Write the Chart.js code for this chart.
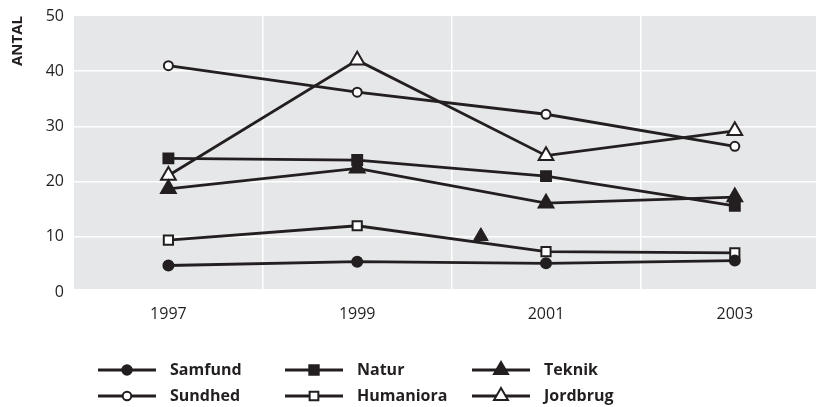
<!DOCTYPE html>
<html>
<head>
<meta charset="utf-8">
<script src="https://cdn.jsdelivr.net/npm/chart.js@4/dist/chart.umd.min.js"></script>
<style>
html,body{margin:0;padding:0;background:#fff;}
#wrap{width:816px;height:407px;}
</style>
</head>
<body>
<div id="wrap"><canvas id="c" width="816" height="407"></canvas></div>
<script>
const years = [1997, 1999, 2001, 2003];
const samfund   = [4.8, 5.5, 5.2, 5.7];
const natur     = [24.2, 23.9, 21.0, 15.6];
const teknik    = [18.7, 22.4, 16.1, 17.2];
const sundhed   = [41.0, 36.2, 32.2, 26.4];
const humaniora = [9.4, 12.0, 7.3, 7.1];
const jordbrug  = [21.1, 42.0, 24.7, 29.2];
const strayX = [2000.31];
const strayY = [10.1];
const yTicks = [0, 10, 20, 30, 40, 50];
const gridYears = [1998, 2000, 2002];
const axisTitle = 'ANTAL';

const INK = '#231f20';
const GRAY = '#e6e7e8';
const X_MIN = 1996, X_MAX = 2003.86;

function pts(vals){ return years.map((y,i)=>({x:y, y:vals[i]})); }

const series = [
  {label:'Samfund',   data:samfund,   style:'circle',   r:5,   fill:INK},
  {label:'Natur',     data:natur,     style:'rect',     r:7,   fill:INK},
  {label:'Teknik',    data:teknik,    style:'triangle', r:8.5, fill:INK},
  {label:'Sundhed',   data:sundhed,   style:'circle',   r:4.5, fill:'#ffffff'},
  {label:'Humaniora', data:humaniora, style:'rect',     r:6.5, fill:'#ffffff'},
  {label:'Jordbrug',  data:jordbrug,  style:'triangle', r:8.5, fill:'#ffffff'}
];

const datasets = series.map(s => ({
  label: s.label,
  data: pts(s.data),
  borderColor: INK,
  borderWidth: 2.8,
  pointStyle: s.style,
  pointRadius: s.r,
  pointHoverRadius: s.r,
  pointBackgroundColor: s.fill,
  pointBorderColor: INK,
  pointBorderWidth: 2,
  tension: 0,
  fill: false
}));
datasets.push({
  label: '_stray',
  data: strayX.map((x,i)=>({x:x, y:strayY[i]})),
  showLine: false,
  pointStyle: 'triangle',
  pointRadius: 8.5,
  pointBackgroundColor: INK,
  pointBorderColor: INK,
  pointBorderWidth: 1
});

const bgPlugin = {
  id: 'bg',
  beforeDraw(chart){
    const a = chart.chartArea, ctx = chart.ctx;
    ctx.save();
    ctx.fillStyle = GRAY;
    ctx.fillRect(a.left, a.top, a.right - a.left, (a.bottom - 3) - a.top);
    ctx.restore();
  }
};

const legendPlugin = {
  id: 'customLegend',
  afterDraw(chart){
    const ctx = chart.ctx;
    const cols = [98, 285, 472];
    const rows = [370, 396];
    const lineLen = 58;
    const textGap = 14;
    ctx.save();
    series.forEach((s, k) => {
      const x0 = cols[k % 3], y = rows[Math.floor(k / 3)];
      ctx.strokeStyle = INK;
      ctx.lineWidth = 2.8;
      ctx.beginPath();
      ctx.moveTo(x0, y);
      ctx.lineTo(x0 + lineLen, y);
      ctx.stroke();
      ctx.fillStyle = s.fill;
      ctx.strokeStyle = INK;
      ctx.lineWidth = 2;
      Chart.helpers.drawPoint(ctx, {pointStyle: s.style, radius: s.r * 0.95, borderWidth: 2, rotation: 0}, x0 + lineLen / 2, y);
      ctx.fillStyle = INK;
      ctx.font = 'bold 16px "Open Sans"';
      ctx.textBaseline = 'middle';
      ctx.textAlign = 'left';
      ctx.fillText(s.label, x0 + lineLen + textGap, y);
    });
    ctx.restore();
  }
};

new Chart(document.getElementById('c'), {
  type: 'line',
  data: { datasets },
  options: {
    responsive: false,
    devicePixelRatio: 1,
    animation: false,
    layout: { autoPadding: false, padding: { top: 16, right: 0, left: 0, bottom: 0 } },
    plugins: { legend: { display: false }, tooltip: { enabled: false } },
    scales: {
      x: {
        type: 'linear',
        min: X_MIN,
        max: X_MAX,
        afterBuildTicks(axis){
          const t = [];
          for (let v = X_MIN; v <= 2003; v++) t.push({value: v});
          t.push({value: X_MAX});
          axis.ticks = t;
        },
        afterFit(scale){ scale.height = 115; },
        border: { display: false },
        grid: {
          drawTicks: true,
          tickLength: 13,
          tickColor: 'rgba(0,0,0,0)',
          lineWidth: 1.5,
          color: ctx => (ctx.tick && gridYears.includes(ctx.tick.value)) ? '#ffffff' : 'rgba(0,0,0,0)'
        },
        ticks: {
          padding: 0,
          color: INK,
          font: { family: '"Open Sans"', size: 16 },
          autoSkip: false,
          maxRotation: 0,
          callback: v => years.includes(v) ? String(v) : ''
        }
      },
      y: {
        min: 0,
        max: 50,
        afterBuildTicks(axis){ axis.ticks = yTicks.map(v=>({value:v})); },
        afterFit(scale){ scale.width = 74; },
        border: { display: false },
        grid: {
          drawTicks: true,
          tickLength: 10,
          tickColor: 'rgba(0,0,0,0)',
          lineWidth: 1.5,
          color: ctx => (ctx.tick && ctx.tick.value > 0 && ctx.tick.value < 50) ? '#ffffff' : 'rgba(0,0,0,0)'
        },
        ticks: {
          padding: 0,
          color: INK,
          font: { family: '"Open Sans"', size: 16 },
          callback: v => String(v)
        },
        title: {
          display: true,
          text: axisTitle,
          align: 'end',
          color: INK,
          font: { family: '"Open Sans"', size: 15, weight: 'bold' },
          padding: { top: 9, bottom: 0 }
        }
      }
    }
  },
  plugins: [bgPlugin, legendPlugin]
});
</script>
</body>
</html>
